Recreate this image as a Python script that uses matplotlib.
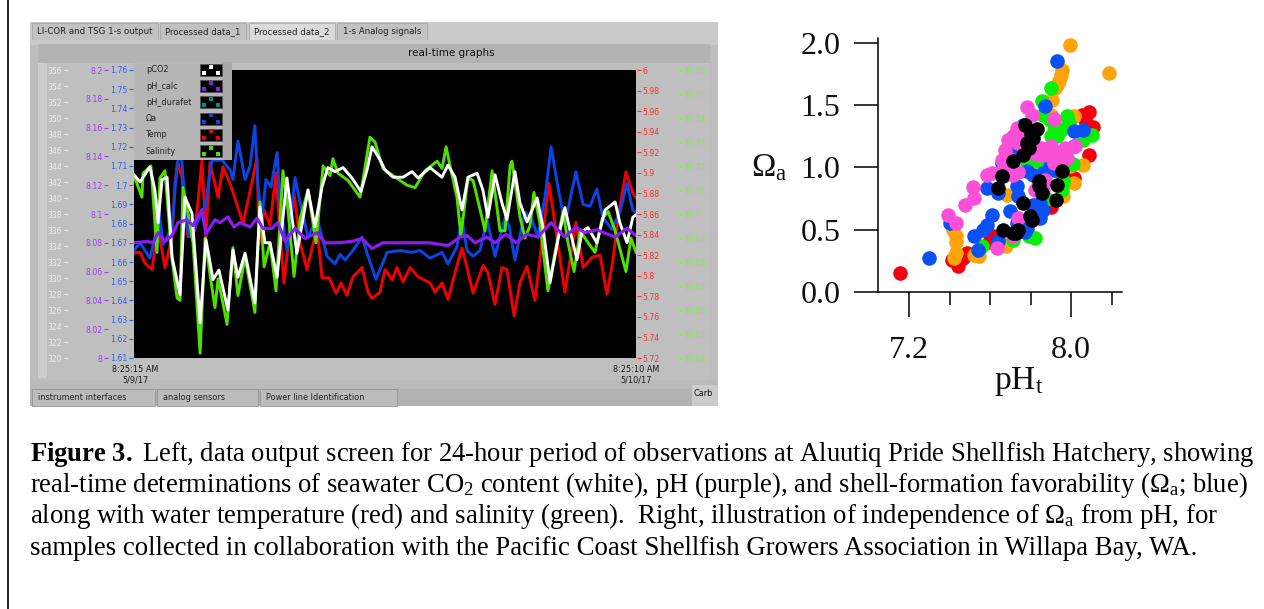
import matplotlib
matplotlib.use('Agg')
import matplotlib.pyplot as plt
from matplotlib.patches import Rectangle

plt.rcParams['font.family'] = ['Liberation Serif', 'DejaVu Sans']
plt.rcParams['mathtext.fontset'] = 'custom'
plt.rcParams['mathtext.rm'] = 'Liberation Serif'
plt.rcParams['mathtext.it'] = 'Liberation Serif:italic'
plt.rcParams['mathtext.bf'] = 'Liberation Serif:bold'

# time axis of the screen, hours since 8:25:15 AM 5/9/17
co2_t = [0, .29, .76, 1.00, 1.15, 1.34, 1.58, 1.82, 2.20, 2.44, 2.77, 3.16, 3.44, 3.78, 4.06, 4.49, 4.73, 4.97, 5.31,
         5.78, 6.02, 6.26, 6.50, 6.84, 7.31, 7.55, 7.79, 8.32, 8.65, 8.99, 9.27, 9.61, 9.99, 10.42, 10.85, 11.14,
         11.38, 11.76, 12.00, 12.38, 12.86, 13.29, 13.58, 14.15, 14.72, 15.01, 15.35, 15.68, 15.97, 16.40, 16.68,
         16.92, 17.26, 17.59, 17.83, 18.21, 18.45, 18.79, 19.27, 19.55, 19.89, 20.27, 20.60, 20.84, 21.18, 21.42,
         21.70, 22.13, 22.52, 23.00, 23.23, 23.57, 23.85, 24]
co2 = [342.9, 342.0, 343.9, 341.0, 336.9, 342.3, 342.6, 332.6, 327.9, 340.1, 338.1, 324.4, 334.8, 329.8, 331.0, 326.0,
       333.5, 330.1, 333.1, 326.9, 338.9, 334.4, 334.4, 330.1, 342.5, 337.6, 333.1, 341.0, 336.4, 341.4, 343.8, 343.3,
       343.8, 342.5, 340.8, 343.5, 346.4, 344.8, 343.5, 342.6, 342.6, 343.3, 342.5, 343.8, 342.6, 344.1, 342.6, 338.5,
       342.6, 343.1, 341.0, 337.6, 342.9, 339.4, 337.3, 343.3, 339.4, 337.0, 340.0, 336.4, 329.4, 334.8, 338.8, 336.0,
       332.3, 335.8, 336.3, 334.4, 338.5, 339.5, 336.9, 334.4, 337.6, 337.9]

sal_t = [0, .38, .43, .81, 1.10, 1.24, 1.48, 1.82, 2.06, 2.20, 2.34, 2.53, 2.82, 3.16, 3.40, 3.63, 3.87, 4.02, 4.45,
         4.73, 4.97, 5.31, 5.78, 6.02, 6.22, 6.50, 6.79, 7.12, 7.36, 7.65, 7.94, 8.32, 8.70, 9.04, 9.37, 9.51, 9.75,
         10.23, 10.81, 11.28, 11.52, 11.90, 12.38, 13.05, 13.44, 13.91, 14.49, 14.73, 14.92, 15.11, 15.44, 15.63,
         15.97, 16.21, 16.54, 16.78, 17.12, 17.50, 17.74, 17.98, 18.07, 18.45, 18.69, 18.93, 19.12, 19.41, 19.79,
         20.13, 20.51, 20.75, 21.04, 21.33, 21.71, 22.04, 22.38, 22.67, 23.00, 23.52, 23.76, 24]
salinity = [31.716, 31.707, 31.717, 31.720, 31.684, 31.715, 31.718, 31.681, 31.665, 31.664, 31.711, 31.703, 31.688,
            31.642, 31.690, 31.675, 31.661, 31.673, 31.654, 31.686, 31.666, 31.682, 31.659, 31.705, 31.678, 31.688,
            31.668, 31.718, 31.702, 31.674, 31.698, 31.710, 31.688, 31.720, 31.716, 31.723, 31.717, 31.714, 31.707,
            31.732, 31.730, 31.719, 31.716, 31.712, 31.711, 31.718, 31.722, 31.719, 31.728, 31.720, 31.707, 31.691,
            31.715, 31.714, 31.702, 31.693, 31.718, 31.693, 31.693, 31.720, 31.722, 31.699, 31.690, 31.695, 31.709,
            31.696, 31.668, 31.684, 31.701, 31.688, 31.676, 31.693, 31.688, 31.684, 31.698, 31.701, 31.693, 31.676,
            31.690, 31.684]

omega_t = [0, .29, .76, 1.10, 1.15, 1.39, 1.82, 2.06, 2.25, 2.53, 2.68, 3.40, 3.73, 4.21, 4.59, 4.73, 4.97, 5.31,
           5.55, 5.78, 5.93, 6.12, 6.31, 6.55, 6.84, 6.98, 7.31, 7.70, 7.94, 8.32, 8.75, 9.23, 9.61, 9.85, 10.09,
           10.47, 10.90, 11.19, 11.57, 11.76, 12.10, 12.72, 13.29, 13.67, 14.15, 14.73, 15.01, 15.44, 15.68, 15.92,
           16.21, 16.54, 16.88, 17.26, 17.74, 17.93, 18.21, 18.69, 19.03, 19.31, 19.65, 19.94, 20.27, 20.60, 21.13,
           21.47, 21.80, 22.13, 22.42, 22.85, 23.23, 23.57, 23.85, 24]
omega = [1.666, 1.670, 1.662, 1.677, 1.692, 1.669, 1.678, 1.711, 1.718, 1.678, 1.673, 1.689, 1.713, 1.713, 1.708,
         1.703, 1.723, 1.703, 1.710, 1.731, 1.699, 1.683, 1.703, 1.699, 1.717, 1.691, 1.666, 1.704, 1.691, 1.673,
         1.683, 1.663, 1.659, 1.664, 1.661, 1.666, 1.673, 1.663, 1.651, 1.656, 1.665, 1.666, 1.665, 1.666, 1.662,
         1.665, 1.659, 1.668, 1.683, 1.666, 1.663, 1.666, 1.682, 1.663, 1.683, 1.679, 1.661, 1.686, 1.682, 1.673,
         1.694, 1.720, 1.699, 1.680, 1.707, 1.690, 1.689, 1.698, 1.683, 1.677, 1.686, 1.701, 1.687, 1.686]

temp_t = [0, .29, .53, .86, 1.15, 1.48, 1.82, 1.96, 2.10, 2.29, 2.58, 2.92, 3.25, 3.44, 3.63, 4.02, 4.25, 4.59, 5.21,
          5.59, 5.88, 5.98, 6.22, 6.50, 6.79, 6.98, 7.17, 7.65, 7.94, 8.27, 8.75, 8.99, 9.32, 9.66, 9.90, 10.18,
          10.47, 10.90, 11.19, 11.38, 11.76, 12.00, 12.34, 12.57, 12.86, 13.20, 13.58, 14.15, 14.39, 14.73, 15.01,
          15.35, 15.68, 15.92, 16.21, 16.69, 16.92, 17.26, 17.59, 17.83, 18.17, 18.45, 18.79, 19.17, 19.84, 20.60,
          21.13, 21.47, 21.90, 22.28, 22.61, 22.90, 23.14, 23.52, 23.85, 24]
temp = [5.822, 5.823, 5.812, 5.806, 5.847, 5.808, 5.838, 5.890, 5.910, 5.896, 5.838, 5.844, 5.912, 5.838, 5.910, 5.876,
        5.906, 5.890, 5.851, 5.886, 5.915, 5.832, 5.864, 5.849, 5.900, 5.841, 5.793, 5.880, 5.832, 5.806, 5.847, 5.798,
        5.798, 5.783, 5.793, 5.781, 5.799, 5.808, 5.784, 5.778, 5.784, 5.806, 5.796, 5.808, 5.794, 5.808, 5.799, 5.793,
        5.784, 5.793, 5.777, 5.803, 5.827, 5.808, 5.783, 5.810, 5.803, 5.772, 5.808, 5.806, 5.761, 5.793, 5.809, 5.776,
        5.890, 5.784, 5.852, 5.808, 5.818, 5.820, 5.782, 5.815, 5.857, 5.901, 5.880, 5.876]

ph_t = [0, .62, .91, 1.15, 1.48, 1.82, 2.10, 2.53, 2.82, 3.25, 3.44, 3.87, 4.11, 4.49, 4.78, 5.07, 5.55, 5.88, 6.17,
        6.60, 6.88, 7.22, 7.70, 8.18, 8.75, 9.13, 9.75, 10.42, 10.90, 11.38, 11.90, 12.57, 13.34, 14.15, 15.01, 15.59,
        15.92, 16.30, 16.88, 17.26, 17.79, 18.26, 18.79, 19.31, 19.94, 20.60, 21.13, 21.56, 22.13, 23.00, 23.57, 24]
ph_calc = [8.080, 8.081, 8.080, 8.087, 8.081, 8.085, 8.094, 8.096, 8.092, 8.103, 8.086, 8.096, 8.094, 8.098, 8.091,
           8.094, 8.091, 8.097, 8.090, 8.090, 8.094, 8.081, 8.090, 8.083, 8.087, 8.080, 8.080, 8.081, 8.083, 8.076,
           8.080, 8.080, 8.080, 8.080, 8.078, 8.084, 8.085, 8.080, 8.084, 8.080, 8.086, 8.080, 8.086, 8.084, 8.094,
           8.084, 8.091, 8.087, 8.089, 8.084, 8.090, 8.085]

# right hand panel, pH against aragonite saturation
red_ph = [7.154, 7.443, 7.410, 7.484, 7.467, 7.616, 7.599, 8.086, 8.053, 8.108, 8.086, 7.905, 7.847, 8.012, 7.44, 7.60,
          7.90, 7.47, 8.07, 7.64]
red_om = [.153, .206, .260, .313, .273, .447, .420, 1.443, 1.424, 1.325, 1.103, .715, .688, .916, .24, .40, .68, .29,
          1.38, .44]
orange_ph = [7.995, 8.187, 7.954, 7.938, 7.921, 7.905, 8.012, 7.545, 7.415, 7.431, 7.434, 7.421, 7.682, 7.665, 8.061,
             8.015, 7.995, 7.962, 7.95, 7.90, 7.43, 7.52, 7.68, 7.95, 7.93]
orange_om = [1.986, 1.759, 1.780, 1.692, 1.638, 1.545, 1.411, .286, .501, .399, .313, .273, .782, .394, 1.017, .875,
             1.009, .768, 1.35, 1.42, .45, .30, .37, 1.74, 1.66]
green_ph = [7.855, 7.901, 7.979, 7.913, 8.103, 8.061, 8.009, 7.962, 7.954, 7.872, 7.794, 7.715, 7.558, 7.781, 7.896,
            7.929, 7.95, 7.90, 7.99, 7.93, 7.90, 7.88, 7.96, 7.82, 7.86, 7.83]
green_om = [1.531, 1.638, 1.411, 1.304, 1.264, 1.223, 1.031, .902, .822, .929, .447, .420, .367, 1.036, 1.384, 1.250,
            1.30, 1.25, 1.36, 1.05, .98, .75, .88, .43, 1.42, 1.05]
blue_ph = [7.929, 7.872, 7.764, 8.012, 8.061, 7.297, 7.542, 7.641, 7.520, 7.566, 7.583, 7.611, 7.401, 7.583, 7.641,
           7.657, 7.731, 7.773, 7.781, 7.814, 7.731, 7.740, 7.698, 7.847, 7.847, 7.781, 7.731, 7.921, 8.012, 7.665,
           7.698, 7.748, 7.896, 7.863, 7.81, 7.86, 7.77]
blue_om = [1.852, 1.491, 1.344, 1.290, 1.304, .270, .335, .407, .447, .501, .541, .621, .554, .835, .795, 1.036, 1.170,
           1.223, .969, .942, .849, .768, .653, .715, .594, .514, .554, .982, 1.170, .929, 1.116, 1.250, 1.009, .956,
           .70, .66, .48]
pink_ph = [7.781, 7.806, 7.913, 7.731, 7.715, 7.674, 7.657, 7.698, 7.583, 7.608, 7.715, 7.514, 7.520, 7.476, 7.390,
           7.434, 7.632, 7.715, 7.740, 7.814, 7.847, 7.888, 7.929, 7.971, 8.020, 7.913, 7.872, 7.822, 7.863, 7.74, 7.69,
           7.70, 7.85, 7.88, 7.90, 7.95, 7.98, 7.76, 7.66, 7.74]
pink_om = [1.486, 1.424, 1.392, 1.317, 1.250, 1.143, 1.063, 1.009, .942, .956, .942, .841, .755, .701, .616, .554, .353,
           .447, .594, 1.116, 1.103, 1.156, 1.116, 1.156, 1.175, 1.036, .902, .822, .822, 1.20, 1.22, 1.07, 1.16, 1.10,
           1.17, 1.09, 1.08, 1.30, .97, .96]
black_ph = [7.773, 7.830, 7.814, 7.781, 7.764, 7.715, 7.657, 7.641, 7.839, 7.855, 7.764, 7.797, 7.806, 7.665, 7.715,
            7.740, 7.929, 7.954, 7.926, 7.79, 7.80, 7.84, 7.73]
black_om = [1.338, 1.312, 1.237, 1.197, 1.103, 1.049, .934, .835, .889, .795, .715, .608, .581, .501, .474, .501, .862,
            .969, .742, 1.16, 1.27, .85, .47]

pco2_ticks = list(range(320, 358, 2))
ph_ticks = [8, 8.02, 8.04, 8.06, 8.08, 8.1, 8.12, 8.14, 8.16, 8.18, 8.2]
omega_ticks = [1.61, 1.62, 1.63, 1.64, 1.65, 1.66, 1.67, 1.68, 1.69, 1.7, 1.71, 1.72, 1.73, 1.74, 1.75, 1.76]
temp_ticks = [5.72, 5.74, 5.76, 5.78, 5.8, 5.82, 5.84, 5.86, 5.88, 5.9, 5.92, 5.94, 5.96, 5.98, 6]
sal_ticks = [31.64, 31.65, 31.66, 31.67, 31.68, 31.69, 31.7, 31.71, 31.72, 31.73, 31.74, 31.75, 31.76]
legend_names = ['pCO2', 'pH_calc', 'pH_durafet', 'Ωa', 'Temp', 'Salinity']
legend_colors = ['white', '#8a1cf0', '#008a8a', '#0a46e6', '#f00000', '#50e000']
top_tabs = ['LI-COR and TSG 1-s output', 'Processed data_1', 'Processed data_2', '1-s Analog signals']
bottom_tabs = ['instrument interfaces', 'analog sensors', 'Power line Identification']

W, H = 1264, 609
GUI = ['DejaVu Sans']
GRAY = '#bdbdbd'

fig = plt.figure(figsize=(W / 100, H / 100), dpi=100, facecolor='white')

def rect_px(x0, y0, x1, y1):
    return [x0 / W, 1 - y1 / H, (x1 - x0) / W, (y1 - y0) / H]

# screenshot furniture, drawn in pixels
bg = fig.add_axes([0, 0, 1, 1], zorder=0)
bg.set_xlim(0, W)
bg.set_ylim(H, 0)
bg.axis('off')

def box(a, x0, y0, x1, y1, color, **kw):
    a.add_patch(Rectangle((x0, y0), x1 - x0, y1 - y0, facecolor=color, edgecolor=kw.pop('ec', 'none'), **kw))

bg.plot([8, 8], [0, H], color='black', lw=1.2)
box(bg, 30, 22, 718, 406, GRAY)
box(bg, 30, 22, 718, 40, '#c9c9c9')
for (x0, x1), name, fc in zip([(32, 158), (160, 246), (249, 335), (337, 427)], top_tabs,
                              ['#c2c2c2', '#c2c2c2', '#dadada', '#c2c2c2']):
    box(bg, x0, 23, x1, 40, fc, ec='#a0a0a0', lw=.5)
    bg.text((x0 + x1) / 2, 31.5, name, fontsize=6.2, family=GUI, color='#222222', ha='center', va='center')
box(bg, 30, 40, 718, 45, '#c9c9c9')
box(bg, 38, 44, 710, 63, '#b3b3b3')
bg.text(451, 53, 'real-time graphs', fontsize=7.5, family=GUI, color='#111111', ha='center', va='center')
box(bg, 38, 63, 710, 380, '#bfbfbf')
box(bg, 38, 63, 47, 378, '#cdcdcd')
box(bg, 30, 380, 718, 389, '#bababa')
box(bg, 30, 389, 718, 406, '#b2b2b2')
for (x0, x1), name in zip([(32, 155), (157, 258), (260, 397)], bottom_tabs):
    box(bg, x0, 389, x1, 406, '#bcbcbc', ec='#8c8c8c', lw=.5)
    bg.text(x0 + 6, 398, name, fontsize=5.9, family=GUI, color='#222222', va='center')
box(bg, 692, 385, 718, 402, '#cbcbcb')
box(bg, 692, 402, 718, 406, '#cbcbcb')
bg.text(694, 393, 'Carb', fontsize=5.9, family=GUI, color='#111111', va='center')
bg.text(135, 369.5, '8:25:15 AM', fontsize=5.9, family=GUI, color='#1a1a1a', ha='center', va='center')
bg.text(135, 380, '5/9/17', fontsize=5.9, family=GUI, color='#1a1a1a', ha='center', va='center')
bg.text(636, 369.5, '8:25:10 AM', fontsize=5.9, family=GUI, color='#1a1a1a', ha='center', va='center')
bg.text(636, 380, '5/10/17', fontsize=5.9, family=GUI, color='#1a1a1a', ha='center', va='center')

# real-time graph, five scales on one black plot
plot_box = rect_px(134, 70, 636, 358)

def scale_axis(ylim, ticks, labels, color, side, offset, z, face='none'):
    a = fig.add_axes(plot_box, zorder=z, facecolor=face)
    a.set_xlim(0, 24)
    a.set_ylim(*ylim)
    a.set_xticks([])
    for s in a.spines.values():
        s.set_visible(False)
    a.yaxis.set_ticks_position(side)
    a.yaxis.set_label_position(side)
    a.spines[side].set_position(('outward', offset * .72))
    a.set_yticks(ticks)
    a.set_yticklabels(labels, fontsize=5.6, family=GUI, color=color)
    a.tick_params(axis='y', length=3, width=.8, color=color, pad=1)
    return a

ax_t = scale_axis((5.72, 6), temp_ticks, [f'{v:g}' for v in temp_ticks], '#ff3030', 'right', 1, 2, face='black')
ax_o = scale_axis((1.61, 1.76), omega_ticks, [f'{v:g}' for v in omega_ticks], '#2c62e8', 'left', 1, 3)
ax_s = scale_axis((31.64, 31.76), sal_ticks, [f'{v:g}' for v in sal_ticks], '#7cf040', 'right', 42, 4)
ax_c = scale_axis((320, 356), pco2_ticks, [str(v) for v in pco2_ticks], '#ececec', 'left', 66, 5)
ax_p = scale_axis((8, 8.2), ph_ticks, [f'{v:g}' for v in ph_ticks], '#a63cf0', 'left', 26, 6)

LW = 2.1
ax_t.plot(temp_t, temp, color='#f20000', lw=LW, solid_joinstyle='round')
ax_o.plot(omega_t, omega, color='#0a46e6', lw=LW, solid_joinstyle='round')
ax_s.plot(sal_t, salinity, color='#50e000', lw=LW, solid_joinstyle='round')
ax_c.plot(co2_t, co2, color='white', lw=LW, solid_joinstyle='round')
ax_p.plot(ph_t, ph_calc, color='#8a1cf0', lw=LW + .2, solid_joinstyle='round')

# floating legend of the graph
top = fig.add_axes([0, 0, 1, 1], zorder=10, facecolor='none')
top.set_xlim(0, W)
top.set_ylim(H, 0)
top.axis('off')
box(top, 134, 62, 232, 160, '#b6b6b6')
box(top, 222, 62, 232, 160, '#a8a8a8')
for i, (name, c) in enumerate(zip(legend_names, legend_colors)):
    y = 70 + i * 16.2
    top.text(146, y, name, fontsize=5.9, family=GUI, color='#222222', va='center')
    box(top, 200, y - 6, 222, y + 6, 'black', ec='#555555', lw=.4)
    top.scatter([204, 211, 218], [y + 3, y - 3.5, y + 3], s=7, color=c, marker='s', lw=0)

# scatter panel
ax = fig.add_axes(rect_px(878, 38, 1122, 292), zorder=1)
ax.set_xlim(7.047, 8.251)
ax.set_ylim(0, 2.04)
pt = 110
ax.scatter(red_ph, red_om, s=pt, color='#f5000f', lw=0, clip_on=False)
ax.scatter(orange_ph, orange_om, s=pt, color='#ffa30a', lw=0, clip_on=False)
ax.scatter(green_ph, green_om, s=pt, color='#0aef0a', lw=0, clip_on=False)
ax.scatter(blue_ph, blue_om, s=pt, color='#0a50f5', lw=0, clip_on=False)
ax.scatter(pink_ph, pink_om, s=pt, color='#fa50d8', lw=0, clip_on=False)
ax.scatter(black_ph, black_om, s=pt, color='black', lw=0, clip_on=False)
ax.spines['top'].set_visible(False)
ax.spines['right'].set_visible(False)
ax.spines['left'].set_bounds(0, 2.04)
ax.spines['left'].set_linewidth(1.1)
ax.spines['bottom'].set_linewidth(1.1)
ax.set_yticks([0, .5, 1, 1.5, 2])
ax.set_yticklabels(['0.0', '0.5', '1.0', '1.5', '2.0'], fontsize=23, color='#111111')
ax.set_xticks([7.2, 8.0])
ax.set_xticklabels(['7.2', '8.0'], fontsize=23, color='#111111')
ax.set_xticks([7.4, 7.6, 7.8, 8.2], minor=True)
ax.tick_params(axis='y', length=17, width=1.1, pad=10)
ax.tick_params(axis='x', which='major', length=18, width=1.1, pad=13.5)
ax.tick_params(axis='x', which='minor', length=9.5, width=1.1)
ax.text(769, 168, r'$\Omega_{\mathrm{a}}$', transform=bg.transData, fontsize=23.5, color='#111111', ha='center', va='center')
ax.text(1019, 382, r'pH$_{\mathrm{t}}$', transform=bg.transData, fontsize=24, color='#111111', ha='center', va='center')

caption = [
    r'$\mathbf{Figure\ 3.}$ Left, data output screen for 24-hour period of observations at Aluutiq Pride Shellfish Hatchery, showing',
    r'real-time determinations of seawater CO$_{2}$ content (white), pH (purple), and shell-formation favorability ($\Omega_{\mathrm{a}}$; blue)',
    r'along with water temperature (red) and salinity (green).  Right, illustration of independence of $\Omega_{\mathrm{a}}$ from pH, for',
    'samples collected in collaboration with the Pacific Coast Shellfish Growers Association in Willapa Bay, WA.',
]
for y, line, size in zip([461, 492, 523, 555], caption, [19.15, 19.15, 19.3, 19.3]):
    bg.text(30, y, line, fontsize=size, color='black', va='baseline')

fig.savefig('out.png', dpi=100, facecolor='white')
